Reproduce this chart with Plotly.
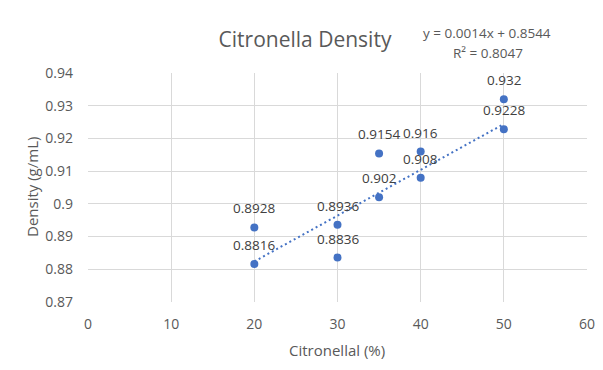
import plotly.graph_objects as go

# Data
citronellal = [20, 20, 30, 30, 35, 35, 40, 40, 50, 50]
density = [0.8928, 0.8816, 0.8936, 0.8836, 0.9154, 0.902, 0.916, 0.908, 0.932, 0.9228]
labels = ["0.8928", "0.8816", "0.8936", "0.8836", "0.9154", "0.902", "0.916", "0.908", "0.932", "0.9228"]
slope = 0.0014
intercept = 0.8544
r2 = 0.8047
trend_x = [20, 50]
x_ticks = [0, 10, 20, 30, 40, 50, 60]
y_ticks = [0.87, 0.88, 0.89, 0.90, 0.91, 0.92, 0.93, 0.94]
y_tick_text = ["0.87", "0.88", "0.89", "0.9", "0.91", "0.92", "0.93", "0.94"]

FONT = "Open Sans"
BLUE = "#4472C4"
GREY = "#595959"

fig = go.Figure()
fig.add_trace(go.Scatter(
    x=trend_x, y=[slope * v + intercept for v in trend_x],
    mode="lines", line=dict(color=BLUE, width=2, dash="2px,3px"),
    hoverinfo="skip", showlegend=False))
fig.add_trace(go.Scatter(
    x=citronellal, y=density, mode="markers",
    marker=dict(color=BLUE, size=8), showlegend=False))

for xv, yv, t in zip(citronellal, density, labels):
    fig.add_annotation(x=xv, y=yv, text=t, showarrow=False, yshift=19,
                       xanchor="center", yanchor="middle",
                       font=dict(family=FONT, size=13.5, color="#404040"))

W, H = 603, 370
L, R, T, B = 88, 16, 73, 68
pw, ph = W - L - R, H - T - B

def px(xp):
    return (xp - L) / pw

def py(yp):
    return 1 - (yp - T) / ph

fig.add_annotation(xref="paper", yref="paper", x=px(487), y=py(33),
                   text=f"y = {slope}x + {intercept}", showarrow=False,
                   xanchor="center", yanchor="middle",
                   font=dict(family=FONT, size=13.5, color=GREY))
fig.add_annotation(xref="paper", yref="paper", x=px(488), y=py(53),
                   text=f"R² = {r2}", showarrow=False,
                   xanchor="center", yanchor="middle",
                   font=dict(family=FONT, size=13.5, color=GREY))
fig.add_annotation(xref="paper", yref="paper", x=px(32), y=py(187),
                   text="Density (g/mL)", showarrow=False, textangle=-90,
                   xanchor="center", yanchor="middle",
                   font=dict(family=FONT, size=15, color=GREY))
fig.add_annotation(xref="paper", yref="paper", x=px(337), y=py(350),
                   text="Citronellal (%)", showarrow=False,
                   xanchor="center", yanchor="middle",
                   font=dict(family=FONT, size=15, color=GREY))

fig.update_layout(
    width=W, height=H, autosize=False,
    margin=dict(l=L, r=R, t=T, b=B, pad=0, autoexpand=False),
    paper_bgcolor="white", plot_bgcolor="white",
    title=dict(text="Citronella Density", x=305 / W, y=1 - 40 / H,
               xanchor="center", yanchor="middle", xref="container", yref="container",
               font=dict(family=FONT, size=21, color=GREY)),
    xaxis=dict(range=[0, 60], tickvals=x_ticks, showgrid=True, gridcolor="#D9D9D9",
               gridwidth=1, zeroline=False, showline=False, ticks="",
               ticklabelstandoff=12, automargin=False,
               tickfont=dict(family=FONT, size=14, color=GREY)),
    yaxis=dict(range=[0.87, 0.94], tickvals=y_ticks, ticktext=y_tick_text,
               showgrid=True, gridcolor="#D9D9D9", gridwidth=1, zeroline=False,
               showline=False, ticks="", ticklabelstandoff=14, automargin=False,
               tickfont=dict(family=FONT, size=14, color=GREY)),
)

fig.write_html("out.html")
